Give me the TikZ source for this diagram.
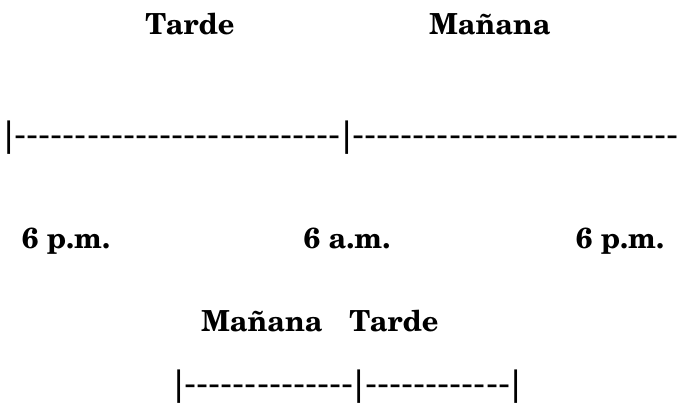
\documentclass[tikz,border=0pt]{standalone}
\usepackage{fontspec}
\newfontfamily\schola{TeX Gyre Schola}
\newfontfamily\rayafont{DejaVu Sans}
\newcommand\guiones[1]{\foreach\k in {1,...,#1}{-}}

\begin{document}
\begin{tikzpicture}[x=1pt,y=-1pt,
        etiqueta/.style={font=\schola\bfseries\fontsize{29}{29}\selectfont, inner sep=0pt, anchor=base},
        raya/.style={font=\rayafont\fontsize{33.5}{33.5}\selectfont, inner sep=0pt, anchor=base west}]
        \useasboundingbox (0,0) rectangle (682,404);
        \node[etiqueta] (tarde1) at (190,35) {Tarde};
        \node[etiqueta] (manana1) at (490,35) {Mañana};
        \node[raya] (linea1) at (3,146) {|\guiones{27}|\guiones{27}};
        \node[etiqueta] (pm1) at (66,248) {6 p.m.};
        \node[etiqueta] (am) at (347,248) {6 a.m.};
        \node[etiqueta] (pm2) at (620,248) {6 p.m.};
        \node[etiqueta] (manana2) at (262,331) {Mañana};
        \node[etiqueta] (tarde2) at (394,331) {Tarde};
        \node[raya] (linea2) at (173,395) {|\guiones{14}|\guiones{12}|};
\end{tikzpicture}
\end{document}
